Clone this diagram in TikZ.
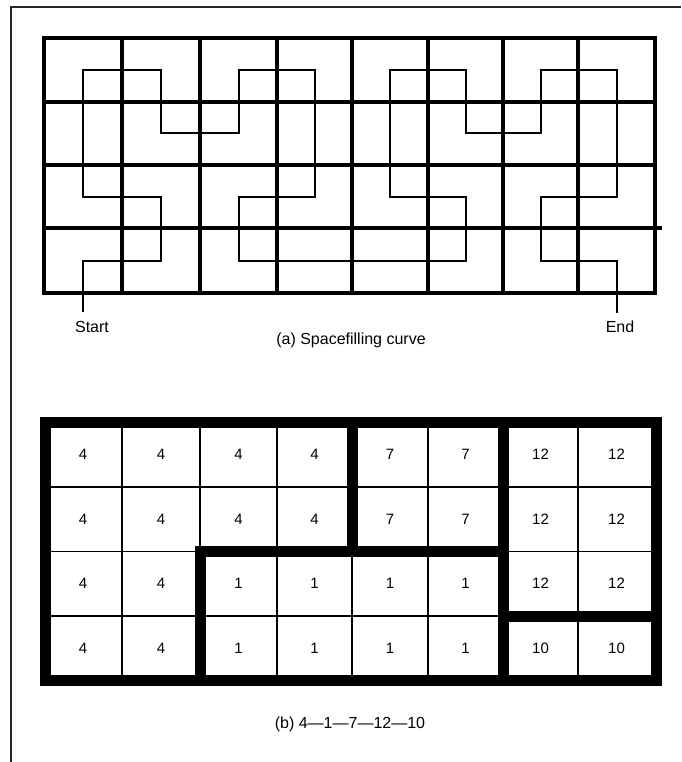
\documentclass[tikz,border=0pt]{standalone}
\usepackage{fontspec}
\setmainfont{Liberation Sans}
\begin{document}
\begin{tikzpicture}[x=1pt,y=-1pt,
  frameline/.style={line width=1.2pt, black!85},
  gridline/.style={line width=3.2pt, line cap=rect},
  curveline/.style={line width=2pt, line join=miter},
  thinline/.style={line width=1.8pt},
  thickline/.style={line width=11pt, line cap=rect},
  lbl/.style={font=\fontsize{16}{19}\selectfont, inner sep=0pt},
  num/.style={font=\fontsize{15}{18}\selectfont, inner sep=0pt}]
\useasboundingbox (0,0) rectangle (681,762);
% page frame
\draw[frameline] (11,762) -- (11,7) -- (681,7);

% ---------- (a) grid ----------
\foreach \x in {122,200,277,352,428,503,578}
  \draw[gridline] (\x,38) -- (\x,293);
\foreach \y in {102,165,293}
  \draw[gridline] (44,\y) -- (655,\y);
\draw[gridline] (44,228) -- (660,228);
\draw[gridline, line cap=butt, line join=miter] (44,38) rectangle (655,293);

% cell centres
\foreach \cx [count=\i from 0] in {83,161,238.5,314.5,390,465.5,540.5,616.5}
  \foreach \cy [count=\j from 0] in {70,133.5,196.5,260.5}
    \coordinate (p\i\j) at (\cx,\cy);
\coordinate (cstart) at (83,312);
\coordinate (cend) at (616.5,313);

\draw[curveline] (cstart) -- (p03) -- (p13) -- (p12) -- (p02) -- (p00) -- (p10)
  -- (p11) -- (p21) -- (p20) -- (p30) -- (p32) -- (p22) -- (p23) -- (p53)
  -- (p52) -- (p42) -- (p40) -- (p50) -- (p51) -- (p61) -- (p60) -- (p70)
  -- (p72) -- (p62) -- (p63) -- (p73) -- (cend);

\node[lbl] (startlbl) at (92,327) {Start};
\node[lbl] (endlbl) at (620,327) {End};
\node[lbl] (capa) at (351,340) {(a) Spacefilling curve};

% ---------- (b) grid ----------
\foreach \x in {122,200,277,352,428,578}
  \draw[thinline] (\x,422.5) -- (\x,680.5);
\foreach \y in {487,551.5,616}
  \draw[thinline] (45.5,\y) -- (656,\y);
% region borders
\draw[thickline] (352,422.5) -- (352,551.5);
\draw[thickline] (200,680.5) -- (200,551.5) -- (503,551.5);
\draw[thickline] (503,422.5) -- (503,680.5);
\draw[thickline] (503,616) -- (656,616);
\draw[line width=11pt, line join=miter] (45.5,422.5) rectangle (656,680.5);

\foreach \cx [count=\i from 0] in {83,161,238.5,314.5,390,465.5,540.5,616.5}
  \foreach \cy [count=\j from 0] in {454.75,519.25,583.75,648.25}
    \coordinate (q\i\j) at (\cx,\cy);

\foreach \i/\j/\v in {0/0/4,1/0/4,2/0/4,3/0/4,4/0/7,5/0/7,6/0/12,7/0/12,
                      0/1/4,1/1/4,2/1/4,3/1/4,4/1/7,5/1/7,6/1/12,7/1/12,
                      0/2/4,1/2/4,2/2/1,3/2/1,4/2/1,5/2/1,6/2/12,7/2/12,
                      0/3/4,1/3/4,2/3/1,3/3/1,4/3/1,5/3/1,6/3/10,7/3/10}
  \node[num] (n\i\j) at (q\i\j) {\v};

\node[lbl] (capb) at (350,724) {(b) 4—1—7—12—10};
\end{tikzpicture}
\end{document}
